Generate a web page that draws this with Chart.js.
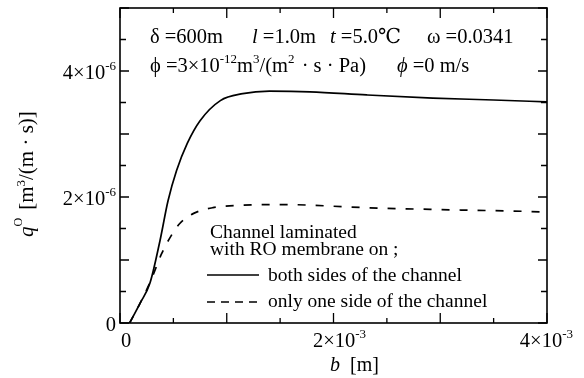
<!DOCTYPE html>
<html>
<head>
<meta charset="utf-8">
<script src="https://cdn.jsdelivr.net/npm/chart.js@4.4.1/dist/chart.umd.min.js"></script>
<style>
  html, body { margin: 0; padding: 0; background: #ffffff; }
  #wrap { width: 584px; height: 378px; position: relative; }
</style>
</head>
<body>
<div id="wrap"><canvas id="c" width="584" height="378"></canvas></div>
<script>
// ---- data ----
// channel width b [m] and flux q [m^3/(m·s)]
const bBoth = [0.09e-3, 0.19e-3, 0.28e-3, 0.375e-3, 0.45e-3, 0.53e-3, 0.63e-3, 0.75e-3, 0.94e-3, 1.15e-3, 1.4e-3, 1.78e-3, 2.31e-3, 2.93e-3, 3.5e-3, 4.0e-3];
const qBoth = [0, 0.32e-6, 0.63e-6, 1.31e-6, 1.94e-6, 2.42e-6, 2.85e-6, 3.21e-6, 3.53e-6, 3.64e-6, 3.68e-6, 3.67e-6, 3.62e-6, 3.57e-6, 3.54e-6, 3.51e-6];
const bOne = [0.09e-3, 0.19e-3, 0.29e-3, 0.39e-3, 0.47e-3, 0.56e-3, 0.69e-3, 0.87e-3, 1.15e-3, 1.53e-3, 2.31e-3, 3.0e-3, 3.84e-3, 4.0e-3];
const qOne = [0, 0.32e-6, 0.68e-6, 1.1e-6, 1.36e-6, 1.58e-6, 1.74e-6, 1.83e-6, 1.87e-6, 1.88e-6, 1.83e-6, 1.80e-6, 1.77e-6, 1.76e-6];
const seriesNames = ['both sides of the channel', 'only one side of the channel'];
// tick labels: value, mantissa text, exponent text
const xTickValues = [0, 2e-3, 4e-3];
const xTickBase = ['0', '2×10', '4×10'];
const xTickExp = ['', '-3', '-3'];
const yTickValues = [0, 2e-6, 4e-6];
const yTickBase = ['0', '2×10', '4×10'];
const yTickExp = ['', '-6', '-6'];

const SERIF = "'Liberation Serif', 'DejaVu Serif', serif";

function pts(xs, ys) { return xs.map((x, i) => ({ x: x, y: ys[i] })); }

function measure(ctx, parts) {
  let w = 0;
  for (const p of parts) { ctx.font = p.f; w += ctx.measureText(p.t).width + (p.gap || 0); }
  return w;
}
function runs(ctx, x, y, parts) {
  for (const p of parts) {
    ctx.font = p.f;
    ctx.fillText(p.t, x, y + (p.dy || 0));
    x += ctx.measureText(p.t).width + (p.gap || 0);
  }
  return x;
}

const decor = {
  id: 'decor',
  afterDraw(chart) {
    const ctx = chart.ctx;
    const a = chart.chartArea;
    const xs = chart.scales.x, ys = chart.scales.y;
    ctx.save();
    ctx.strokeStyle = '#000';
    ctx.fillStyle = '#000';
    // frame
    ctx.lineWidth = 1.6;
    ctx.strokeRect(a.left, a.top, a.right - a.left, a.bottom - a.top);
    // inward ticks
    ctx.lineWidth = 1.3;
    ctx.beginPath();
    xs.ticks.forEach(t => {
      const px = xs.getPixelForValue(t.value);
      const major = Math.abs(t.value / 1e-3 - Math.round(t.value / 1e-3)) < 1e-6;
      const len = major ? 10 : 5;
      ctx.moveTo(px, a.bottom); ctx.lineTo(px, a.bottom - len);
      ctx.moveTo(px, a.top); ctx.lineTo(px, a.top + len);
    });
    ys.ticks.forEach(t => {
      const py = ys.getPixelForValue(t.value);
      const major = Math.abs(t.value / 1e-6 - Math.round(t.value / 1e-6)) < 1e-6;
      const len = major ? 9 : 6;
      ctx.moveTo(a.left, py); ctx.lineTo(a.left + len, py);
      ctx.moveTo(a.right, py); ctx.lineTo(a.right - len, py);
    });
    ctx.stroke();

    ctx.textBaseline = 'alphabetic';
    ctx.textAlign = 'left';
    const F = '20.5px ' + SERIF, FI = 'italic 20.5px ' + SERIF, FS = '13px ' + SERIF;
    const FL = '19.5px ' + SERIF;
    const FT = '20.5px ' + SERIF, FTS = '13px ' + SERIF;

    // tick labels (positions from the scales)
    xTickValues.forEach((v, i) => {
      const parts = [{ t: xTickBase[i], f: FT }, { t: xTickExp[i], f: FTS, dy: -9 }];
      const w = measure(ctx, parts);
      let x0 = xs.getPixelForValue(v) + 6 - w / 2;
      x0 = Math.min(x0, a.right + 26 - w);
      runs(ctx, x0, a.bottom + 24, parts);
    });
    yTickValues.forEach((v, i) => {
      const parts = [{ t: yTickBase[i], f: FT }, { t: yTickExp[i], f: FTS, dy: -9 }];
      const w = measure(ctx, parts);
      runs(ctx, a.left - 4 - w, ys.getPixelForValue(v) + 8, parts);
    });

    // parameter text
    runs(ctx, 150, 43, [{ t: 'δ =600m', f: F }]);
    runs(ctx, 252, 43, [{ t: 'l', f: FI }, { t: ' =1.0m', f: F }]);
    runs(ctx, 330, 43, [{ t: 't', f: FI }, { t: ' =5.0℃', f: F }]);
    runs(ctx, 427, 43, [{ t: 'ω =0.0341', f: F }]);
    runs(ctx, 150, 72, [
      { t: 'ϕ =3×10', f: F }, { t: '-12', f: FS, dy: -9 },
      { t: 'm', f: F }, { t: '3', f: FS, dy: -9 },
      { t: '/(m', f: F }, { t: '2', f: FS, dy: -9, gap: 2 },
      { t: ' · s · Pa)', f: F }
    ]);
    runs(ctx, 397, 72, [{ t: 'ϕ', f: FI }, { t: ' =0 m/s', f: F }]);

    // legend
    runs(ctx, 210, 238, [{ t: 'Channel laminated', f: FL }]);
    runs(ctx, 210, 255, [{ t: 'with RO membrane on ;', f: FL }]);
    ctx.lineWidth = 1.6;
    ctx.setLineDash([]);
    ctx.beginPath(); ctx.moveTo(207, 275); ctx.lineTo(259, 275); ctx.stroke();
    runs(ctx, 268, 281, [{ t: seriesNames[0], f: FL }]);
    ctx.setLineDash([8, 6]);
    ctx.beginPath(); ctx.moveTo(207, 302); ctx.lineTo(259, 302); ctx.stroke();
    ctx.setLineDash([]);
    runs(ctx, 268, 307, [{ t: seriesNames[1], f: FL }]);

    // x title
    runs(ctx, 330, 371, [{ t: 'b', f: 'italic 20px ' + SERIF }, { t: '  [m]', f: '20px ' + SERIF }]);

    // y title (rotated)
    ctx.save();
    ctx.translate(33, 237);
    ctx.rotate(-Math.PI / 2);
    runs(ctx, 0, 0, [
      { t: 'q', f: 'italic 21px ' + SERIF },
      { t: 'O', f: '12px ' + SERIF, dy: -11, gap: 8 },
      { t: '[m', f: '21px ' + SERIF }, { t: '3', f: FTS, dy: -8 },
      { t: '/(m · s)]', f: '21px ' + SERIF }
    ]);
    ctx.restore();
    ctx.restore();
  }
};

new Chart(document.getElementById('c'), {
  type: 'line',
  data: {
    datasets: [
      {
        label: seriesNames[0],
        data: pts(bBoth, qBoth),
        borderColor: '#000', borderWidth: 1.7, pointRadius: 0,
        cubicInterpolationMode: 'monotone', fill: false
      },
      {
        label: seriesNames[1],
        data: pts(bOne, qOne),
        borderColor: '#000', borderWidth: 1.7, pointRadius: 0, borderDash: [8, 10],
        cubicInterpolationMode: 'monotone', fill: false
      }
    ]
  },
  options: {
    responsive: false,
    animation: false,
    devicePixelRatio: 1,
    layout: { padding: { top: 8, right: 37, left: 0, bottom: 0 } },
    plugins: { legend: { display: false }, tooltip: { enabled: false }, title: { display: false } },
    scales: {
      x: {
        type: 'linear', min: 0, max: 4e-3,
        grid: { display: false }, border: { display: false },
        ticks: { stepSize: 0.5e-3, autoSkip: false, display: false },
        afterFit: s => { s.height = 55; }
      },
      y: {
        type: 'linear', min: 0, max: 5e-6,
        grid: { display: false }, border: { display: false },
        ticks: { stepSize: 0.5e-6, autoSkip: false, display: false },
        afterFit: s => { s.width = 120; }
      }
    }
  },
  plugins: [decor]
});
</script>
</body>
</html>
